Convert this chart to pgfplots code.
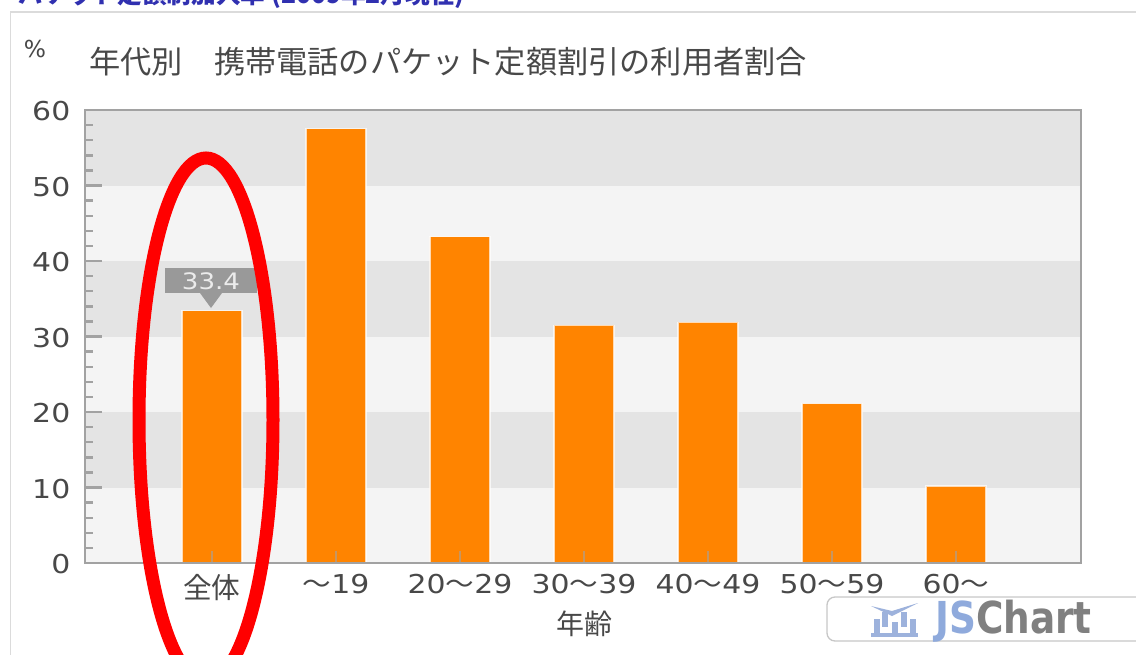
\documentclass[border=0pt]{standalone}
\usepackage{fontspec}
\usepackage{graphicx}
\usepackage{pgfplots}
\pgfplotsset{compat=1.18}
\setmainfont{Noto Sans CJK JP}
\newfontfamily\jp{Noto Sans CJK JP}
\newfontfamily\num[FakeStretch=1.15]{DejaVu Sans}
\newfontfamily\pct{DejaVu Sans}
\newfontfamily\tild[FakeStretch=1.1]{Noto Sans CJK JP}
\newcommand{\nt}{{\tild ～}}
\definecolor{txt}{HTML}{484848}
\definecolor{bandD}{HTML}{E4E4E4}
\definecolor{bandL}{HTML}{F4F4F4}
\definecolor{axc}{HTML}{A2A2A2}
\definecolor{barc}{HTML}{FF8400}
\definecolor{tipc}{HTML}{999999}
\definecolor{headc}{HTML}{3030B0}
\definecolor{wmb}{HTML}{8FAADC}
\definecolor{wmi}{HTML}{9DB2DC}
\pgfplotstableread{
x y
0 33.4
1 57.5
2 43.2
3 31.5
4 31.9
5 21.1
6 10.2
}\agedata
\begin{document}
\begin{tikzpicture}
\path[use as bounding box,clip] (0,0) rectangle (852pt,-490.5pt);
\begin{scope}[x=0.75pt,y=-0.75pt]
  \draw[draw=black!14,line width=1.2pt] (10.5,660) -- (10.5,12) -- (1140,12);
  \node[anchor=base east,text=headc,font=\jp\bfseries\fontsize{18.5pt}{20pt}\selectfont,inner sep=0pt] at (465,3) {パケット定額制加入率 (2009年2月現在)};
\end{scope}
\begin{axis}[
  at={(63.75pt,-422.25pt)},anchor=south west,
  scale only axis,width=747pt,height=339.75pt,
  xmin=-1.024,xmax=7.008,ymin=0,ymax=60,
  axis on top,
  axis line style={draw=axc,line width=1.1pt},
  ytick={0,10,...,60},minor y tick num=4,
  xtick={0,...,6},
  xticklabels={{\jp\fontsize{21.5pt}{22pt}\selectfont\raisebox{-1pt}{全体}},{\nt 19},{20\nt 29},{30\nt 39},{40\nt 49},{50\nt 59},{60\nt}},
  tick align=inside,
  ytick pos=left,xtick pos=bottom,
  major tick length=12.5pt,minor tick length=6pt,
  major tick style={draw=axc,line width=1.8pt},
  minor tick style={draw=axc,line width=1.8pt},
  x tick style={draw=none},
  /pgf/number format/assume math mode=true,
  ticklabel style={font=\num\fontsize{19.5pt}{19.5pt}\selectfont,text=txt},
  yticklabel style={xshift=-7.5pt,yshift=-1pt},
  xticklabel style={yshift=7.5pt},
  ybar,bar width=45pt,
]
\fill[bandL] (axis cs:-2,0) rectangle (axis cs:8,10);
\fill[bandD] (axis cs:-2,10) rectangle (axis cs:8,20);
\fill[bandL] (axis cs:-2,20) rectangle (axis cs:8,30);
\fill[bandD] (axis cs:-2,30) rectangle (axis cs:8,40);
\fill[bandL] (axis cs:-2,40) rectangle (axis cs:8,50);
\fill[bandD] (axis cs:-2,50) rectangle (axis cs:8,60);
\addplot[fill=barc,draw=white,draw opacity=.7,line width=0.8pt] table[x=x,y=y] {\agedata};
\end{axis}
\begin{scope}[x=0.75pt,y=-0.75pt]
  \foreach \px in {212,336,460,584,708,832,956}
    \draw[draw=axc,opacity=.6,line width=1.2pt] (\px,562) -- (\px,551);
  \node[text=txt,font=\jp\fontsize{21pt}{21pt}\selectfont,inner sep=0pt] at (584,624) {年齢};
  \node[text=txt,font=\jp\fontsize{23.4pt}{24pt}\selectfont,anchor=west,inner sep=0pt] at (89,62) {年代別　携帯電話のパケット定額割引の利用者割合};
  \node[text=txt,font=\pct\fontsize{17.5pt}{18pt}\selectfont,inner sep=0pt] at (35,49) {\%};
  % tooltip
  \fill[tipc] (165,268) rectangle (257,293);
  \fill[tipc] (200,293) -- (222,293) -- (211,308) -- cycle;
  \node[text=white!92!black,font=\num\fontsize{17pt}{17pt}\selectfont,inner sep=0pt] at (211,281) {33.4};
  % red ellipse
  \draw[red,line width=9.75pt] (206,420) ellipse [x radius=67,y radius=262];
  % watermark
  \draw[draw=black!22,fill=white,line width=1pt,rounded corners=6pt] (827,597) rectangle (1160,641);
  \fill[wmi] (871,633) rectangle (918,637);
  \foreach \bx/\bt in {874/619,882/612,892/622,901/612,910/619}
    \fill[wmi] (\bx,\bt) rectangle ++(6,15);
  \fill[wmi] (871,606) -- (892,611) -- (918,603) -- (892,616) -- cycle;
  \node[anchor=west,inner sep=0pt,font=\fontspec{DejaVu Sans Bold}\fontsize{33pt}{33pt}\selectfont] at (935,621) {\scalebox{0.85}[1]{\textcolor{wmb}{JS}\textcolor{black!50}{Chart}}};
\end{scope}
\end{tikzpicture}
\end{document}
